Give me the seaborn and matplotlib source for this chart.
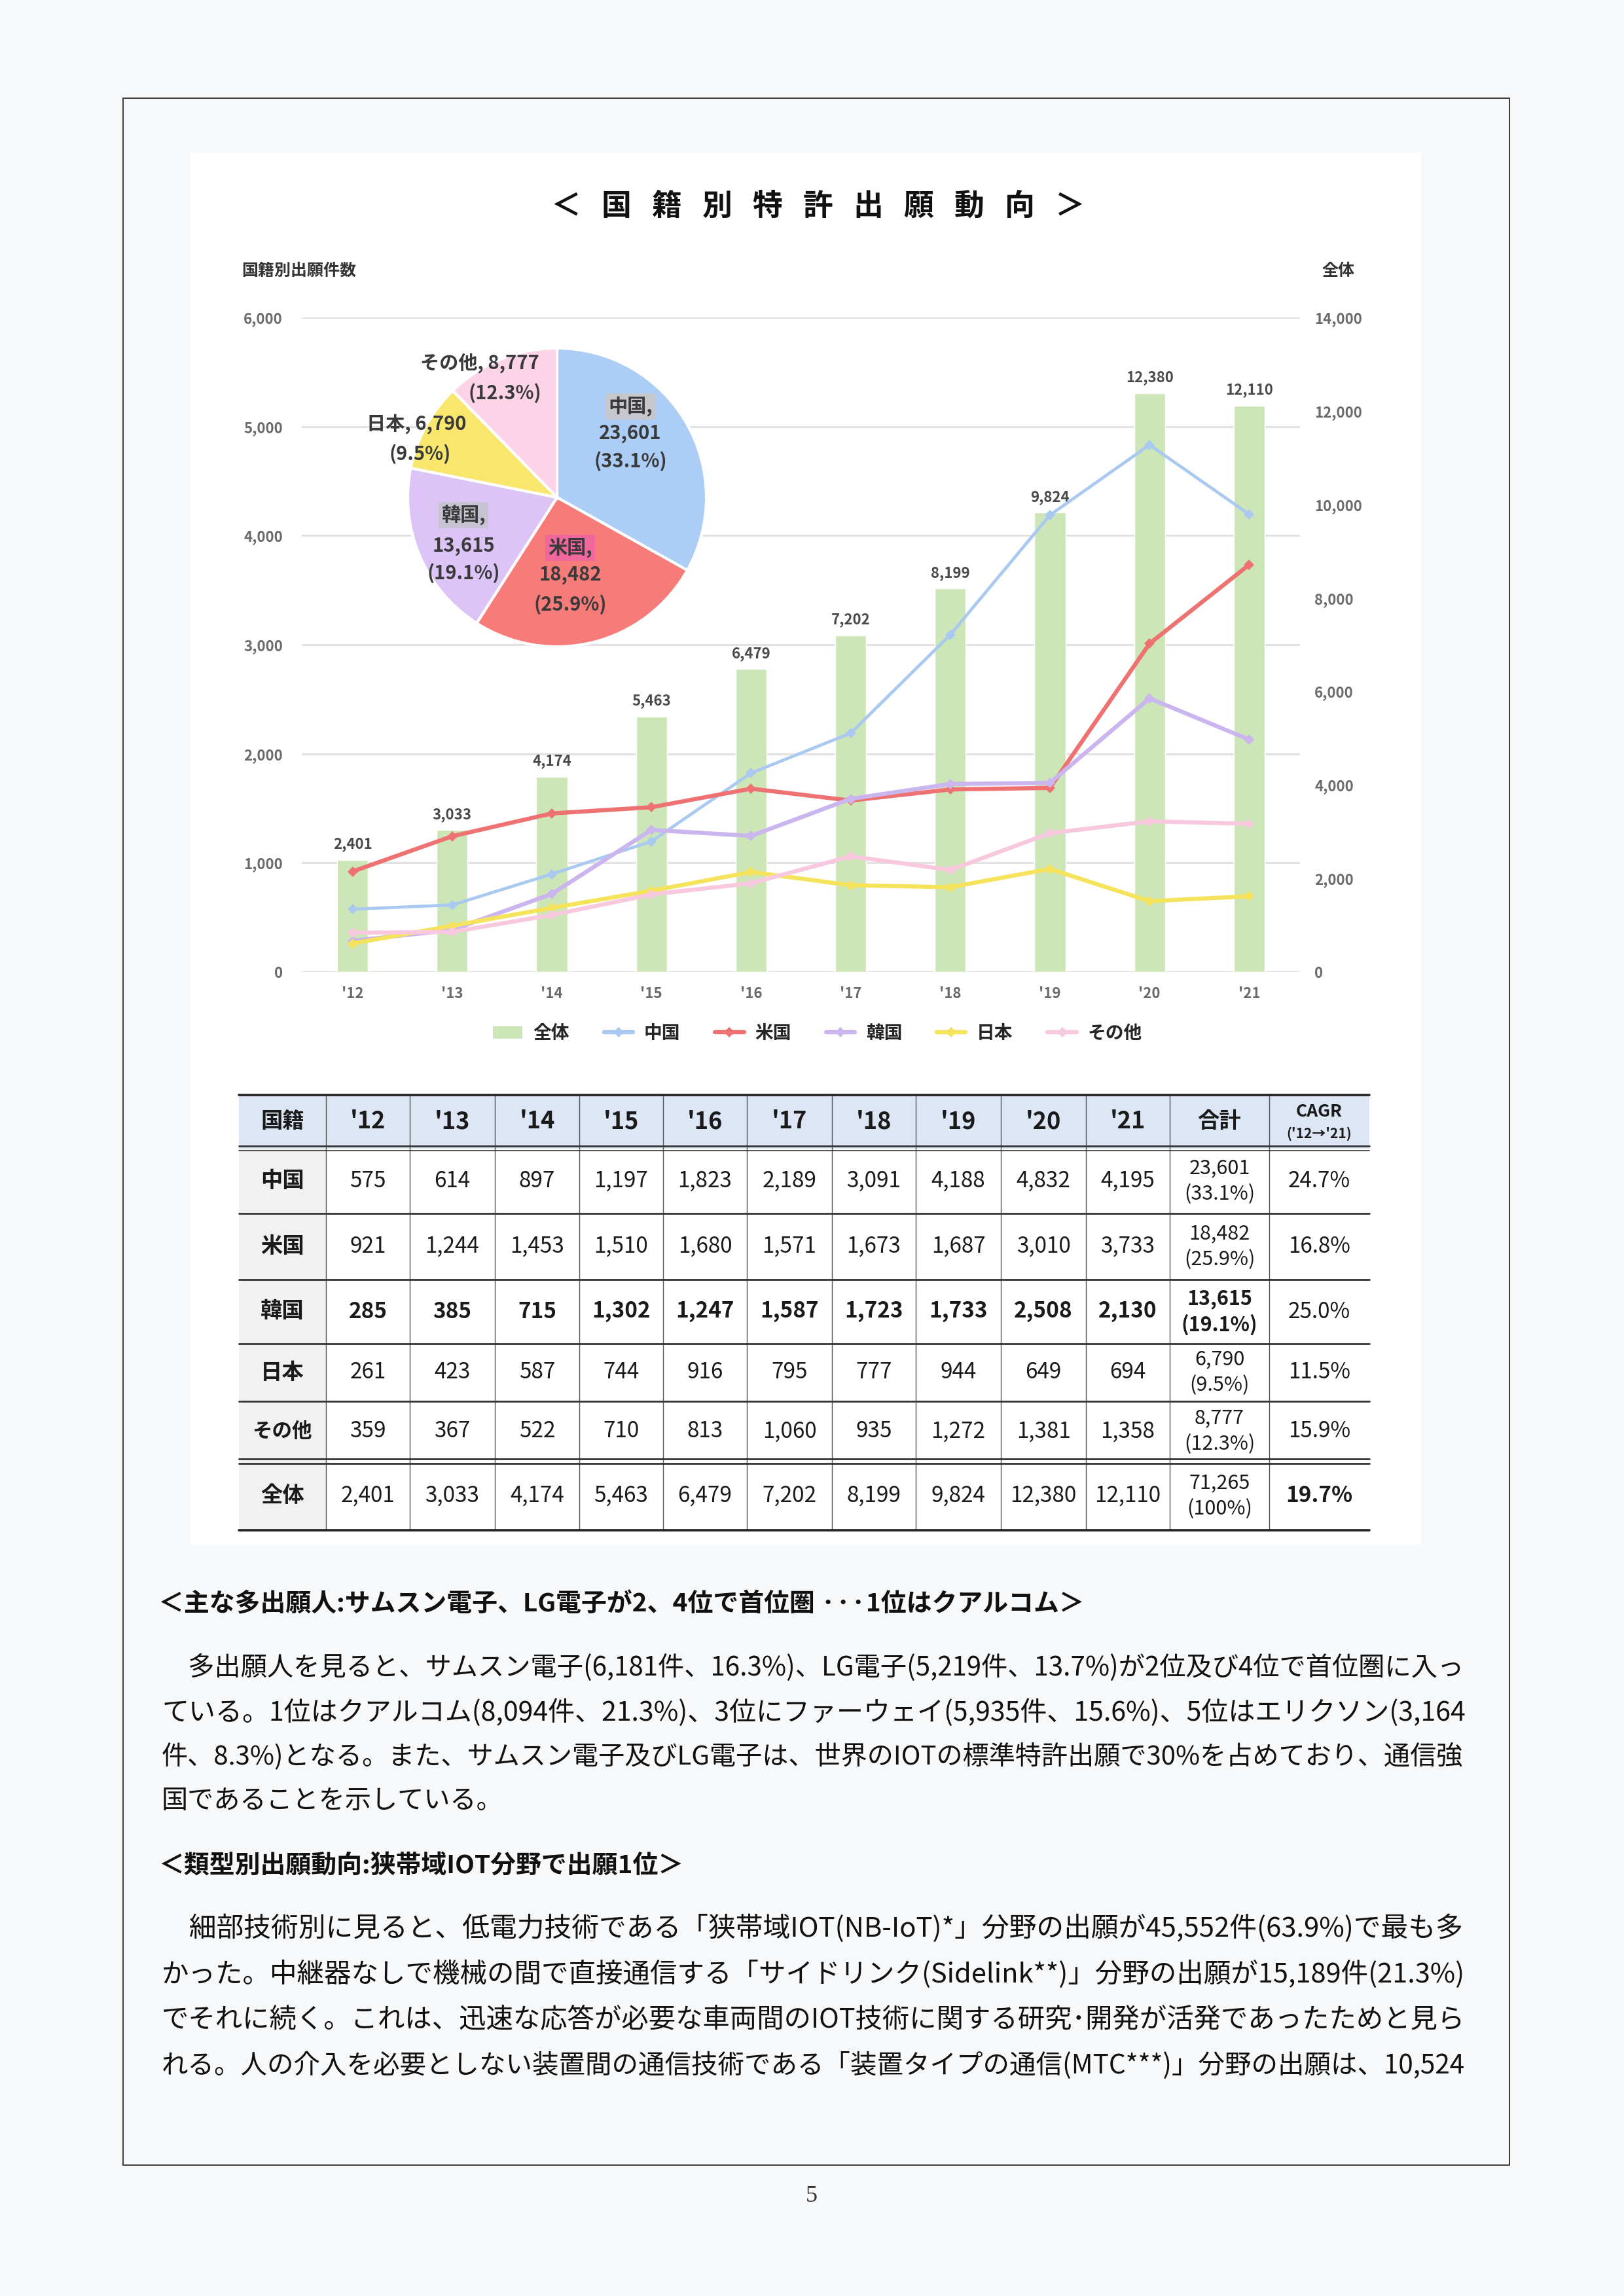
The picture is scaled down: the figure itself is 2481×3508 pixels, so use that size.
import numpy as np
import pandas as pd
import matplotlib
matplotlib.use("Agg")
import matplotlib.pyplot as plt
import seaborn as sns
from matplotlib.patches import Rectangle, Patch
from matplotlib.lines import Line2D

# ---------------- data ----------------
years = ["'12", "'13", "'14", "'15", "'16", "'17", "'18", "'19", "'20", "'21"]
countries = ["中国", "米国", "韓国", "日本", "その他"]
china = [575, 614, 897, 1197, 1823, 2189, 3091, 4188, 4832, 4195]
usa = [921, 1244, 1453, 1510, 1680, 1571, 1673, 1687, 3010, 3733]
korea = [285, 385, 715, 1302, 1247, 1587, 1723, 1733, 2508, 2130]
japan = [261, 423, 587, 744, 916, 795, 777, 944, 649, 694]
other = [359, 367, 522, 710, 813, 1060, 935, 1272, 1381, 1358]
total = [2401, 3033, 4174, 5463, 6479, 7202, 8199, 9824, 12380, 12110]
sums = [23601, 18482, 13615, 6790, 8777]
sum_total = 71265
shares = ["33.1%", "25.9%", "19.1%", "9.5%", "12.3%"]
cagr = ["24.7%", "16.8%", "25.0%", "11.5%", "15.9%"]
cagr_total = "19.7%"
left_ticks = [0, 1000, 2000, 3000, 4000, 5000, 6000]
right_ticks = [0, 2000, 4000, 6000, 8000, 10000, 12000, 14000]

title = "＜   国   籍   別   特   許   出   願   動   向   ＞"
heading1 = "＜主な多出願人:サムスン電子、LG電子が2、4位で首位圏 ···1位はクアルコム＞"
para1 = [
    "　多出願人を見ると、サムスン電子(6,181件、16.3%)、LG電子(5,219件、13.7%)が2位及び4位で首位圏に入っ",
    "ている。1位はクアルコム(8,094件、21.3%)、3位にファーウェイ(5,935件、15.6%)、5位はエリクソン(3,164",
    "件、8.3%)となる。また、サムスン電子及びLG電子は、世界のIOTの標準特許出願で30%を占めており、通信強",
    "国であることを示している。",
]
heading2 = "＜類型別出願動向:狭帯域IOT分野で出願1位＞"
para2 = [
    "　細部技術別に見ると、低電力技術である「狭帯域IOT(NB-IoT)*」分野の出願が45,552件(63.9%)で最も多",
    "かった。中継器なしで機械の間で直接通信する「サイドリンク(Sidelink**)」分野の出願が15,189件(21.3%)",
    "でそれに続く。これは、迅速な応答が必要な車両間のIOT技術に関する研究･開発が活発であったためと見ら",
    "れる。人の介入を必要としない装置間の通信技術である「装置タイプの通信(MTC***)」分野の出願は、10,524",
]

# ---------------- style ----------------
line_colors = {"中国": "#a9c9f1", "米国": "#ef7272", "韓国": "#cbb5ef",
               "日本": "#f6e35c", "その他": "#f8c9de"}
pie_colors = ["#abcdf6", "#f77c79", "#dcc4f6", "#f9e66d", "#fdd4e7"]
bar_color = "#cde6b7"
page_bg = "#f6f8fa"

sns.set_theme(style="white")
plt.rcParams['font.family'] = ['Noto Sans CJK JP', 'DejaVu Sans']

W, H = 2481, 3508
fig = plt.figure(figsize=(W / 100, H / 100), dpi=100, facecolor=page_bg)


def fpos(x0, y0, x1, y1):
    return [x0 / W, 1 - y1 / H, (x1 - x0) / W, (y1 - y0) / H]


# background / page axes in pixel coordinates
bg = fig.add_axes([0, 0, 1, 1])
bg.set_xlim(0, W)
bg.set_ylim(H, 0)
bg.axis('off')
bg.add_patch(Rectangle((188, 150), 2306 - 188, 3308 - 150, fill=False,
                       ec='#3c3c3c', lw=1.4))
bg.add_patch(Rectangle((291, 233), 2170 - 291, 2360 - 233, fc='white', ec='none'))

bg.text(1250, 316, title, ha='center', va='center', fontsize=33,
        fontweight='bold', color='#111')
bg.text(369, 414, "国籍別出願件数", ha='left', va='center', fontsize=18,
        fontweight='bold', color='#333')
bg.text(2045, 414, "全体", ha='center', va='center', fontsize=18,
        fontweight='bold', color='#333')

# ---------------- combo chart ----------------
pos = fpos(461, 485, 1986, 1485)
xlim = (-0.51, 9.51)

axg = fig.add_axes(pos)
axg.set_xlim(*xlim)
axg.set_ylim(0, 6000)
for v in left_ticks:
    axg.axhline(v, color='#e2e2e2', lw=2.2, zorder=0)
axg.axis('off')

df_total = pd.DataFrame({"year": years, "total": total})
axb = fig.add_axes(pos, facecolor='none')
sns.barplot(data=df_total, x="year", y="total", order=years, color=bar_color,
            saturation=1, width=0.31, ax=axb)
axb.set_xlim(*xlim)
axb.set_ylim(0, 14000)
axb.set_xlabel("")
axb.set_ylabel("")
axb.yaxis.tick_right()
axb.set_yticks(right_ticks)
axb.set_yticklabels([f"{v:,}" for v in right_ticks])
axb.tick_params(axis='y', length=0, pad=16, labelsize=16, labelcolor='#6b6b6b')
axb.tick_params(axis='x', length=0, pad=16, labelsize=16, labelcolor='#6b6b6b')
for lab in axb.get_xticklabels() + axb.get_yticklabels():
    lab.set_fontweight('bold')
for s in axb.spines.values():
    s.set_visible(False)
axb.bar_label(axb.containers[0], labels=[f"{v:,}" for v in total], padding=9,
              fontsize=16, fontweight='bold', color='#4a4a4a')

series = {"中国": china, "米国": usa, "韓国": korea, "日本": japan, "その他": other}
df_long = pd.DataFrame([{"year": y, "country": c, "value": vals[i]}
                        for c, vals in series.items() for i, y in enumerate(years)])
df_long["pos"] = pd.Categorical(df_long["year"], categories=years).codes

axl = fig.add_axes(pos, facecolor='none')
sns.lineplot(data=df_long, x="pos", y="value", hue="country", hue_order=countries,
             palette=line_colors, marker='D', markersize=8, markeredgewidth=0,
             linewidth=4.6, legend=False, sort=False, ax=axl)
for ln in axl.lines:
    if ln.get_color() == line_colors["中国"]:
        ln.set_linewidth(3.4)
axl.set_xlim(*xlim)
axl.set_ylim(0, 6000)
axl.set_xticks([])
axl.set_xlabel("")
axl.set_ylabel("")
axl.set_yticks(left_ticks)
axl.set_yticklabels([f"{v:,}" for v in left_ticks])
axl.tick_params(axis='y', length=0, pad=21, labelsize=16, labelcolor='#6b6b6b')
for lab in axl.get_yticklabels():
    lab.set_fontweight('bold')
for s in axl.spines.values():
    s.set_visible(False)

handles = [Patch(fc=bar_color, ec='none', label="全体")]
for c in countries:
    handles.append(Line2D([0], [0], color=line_colors[c], lw=4.6, marker='D',
                          ms=8, mew=0, label=c))
fig.legend(handles=handles, loc='center', bbox_to_anchor=(1249 / W, 1 - 1579 / H),
           ncol=6, frameon=False, prop={'size': 20, 'weight': 'bold'},
           handlelength=1.6, columnspacing=1.9, handletextpad=0.6)

# ---------------- pie ----------------
pcx, pcy, pr = 851, 760, 228
pax = fig.add_axes(fpos(pcx - pr, pcy - pr, pcx + pr, pcy + pr), facecolor='none')
pax.pie(sums, colors=pie_colors, startangle=90, counterclock=False, radius=1,
        wedgeprops=dict(edgecolor='white', linewidth=3))
pax.set_xlim(-1, 1)
pax.set_ylim(-1, 1)


def pp(px, py):
    return ((px - pcx) / pr, (pcy - py) / pr)


tot = sum(sums)
pct = [f"({v / tot * 100:.1f}%)" for v in sums]
lab_kw = dict(ha='center', va='center', fontsize=21, fontweight='bold',
              color='#3a3a3a', clip_on=False)
# 中国
pax.text(*pp(963, 621), "中国,", bbox=dict(fc='#c6c7cc', ec='none', pad=3), **lab_kw)
pax.text(*pp(963, 662), f"{sums[0]:,}", **lab_kw)
pax.text(*pp(963, 705), pct[0], **lab_kw)
# 米国
pax.text(*pp(871, 837), "米国,", bbox=dict(fc='#f0679c', ec='none', pad=3), **lab_kw)
pax.text(*pp(871, 878), f"{sums[1]:,}", **lab_kw)
pax.text(*pp(871, 924), pct[1], **lab_kw)
# 韓国
pax.text(*pp(708, 787), "韓国,", bbox=dict(fc='#c8c3d2', ec='none', pad=3), **lab_kw)
pax.text(*pp(708, 834), f"{sums[2]:,}", **lab_kw)
pax.text(*pp(708, 876), pct[2], **lab_kw)
# 日本
pax.text(*pp(636, 648), f"日本, {sums[3]:,}", **lab_kw)
pax.text(*pp(642, 694), pct[3], **lab_kw)
# その他
pax.text(*pp(733, 555), f"その他, {sums[4]:,}", **lab_kw)
pax.text(*pp(771, 601), pct[4], **lab_kw)

# ---------------- table ----------------
col_edges = [365, 498, 626, 756, 885, 1013, 1141, 1271, 1399, 1529, 1659, 1787, 1939, 2092]
row_edges = [1673, 1755, 1854, 1955, 2053, 2141, 2233, 2338]
bg.add_patch(Rectangle((col_edges[0], row_edges[0]), col_edges[-1] - col_edges[0],
                       row_edges[1] - row_edges[0], fc='#dce6f4', ec='none'))
bg.add_patch(Rectangle((col_edges[0], row_edges[1]), col_edges[1] - col_edges[0],
                       row_edges[-1] - row_edges[1], fc='#f1f1f1', ec='none'))


def cx(i):
    return (col_edges[i] + col_edges[i + 1]) / 2


def ry(j):
    return (row_edges[j] + row_edges[j + 1]) / 2


tk = dict(ha='center', va='center', color='#1a1a1a')
yh = ry(0)
bg.text(cx(0), yh, "国籍", fontsize=24, fontweight='bold', **tk)
for i, y in enumerate(years):
    bg.text(cx(i + 1), yh, y, fontsize=26, fontweight='bold', **tk)
bg.text(cx(11), yh, "合計", fontsize=24, fontweight='bold', **tk)
bg.text(cx(12), yh - 16, "CAGR", fontsize=19, fontweight='bold', **tk)
bg.text(cx(12), yh + 18, "('12→'21)", fontsize=15, fontweight='bold', **tk)

row_labels = countries + ["全体"]
row_vals = [china, usa, korea, japan, other, total]
row_sums = sums + [sum_total]
row_shares = shares + ["100%"]
row_cagr = cagr + [cagr_total]
for r in range(6):
    yc = ry(r + 1)
    bold = 'bold' if row_labels[r] == "韓国" else 'normal'
    lfs = 24 if row_labels[r] != "その他" else 22
    bg.text(cx(0), yc, row_labels[r], fontsize=lfs, fontweight='bold', **tk)
    for i, v in enumerate(row_vals[r]):
        bg.text(cx(i + 1), yc, f"{v:,}", fontsize=24, fontweight=bold, **tk)
    bg.text(cx(11), yc - 20, f"{row_sums[r]:,}", fontsize=22, fontweight=bold, **tk)
    bg.text(cx(11), yc + 20, f"({row_shares[r]})", fontsize=22, fontweight=bold, **tk)
    cb = 'bold' if row_labels[r] == "全体" else 'normal'
    bg.text(cx(12), yc, row_cagr[r], fontsize=24, fontweight=cb, **tk)

x0, x1 = col_edges[0], col_edges[-1]
for xe in col_edges[1:-1]:
    bg.plot([xe, xe], [row_edges[0], row_edges[-1]], color='#555', lw=1.0)
bg.plot([x0, x1], [row_edges[0], row_edges[0]], color='#222', lw=2.6)
bg.plot([x0, x1], [row_edges[1] - 4, row_edges[1] - 4], color='#333', lw=2.0)
bg.plot([x0, x1], [row_edges[1] + 3, row_edges[1] + 3], color='#333', lw=1.2)
for ye in row_edges[2:6]:
    bg.plot([x0, x1], [ye, ye], color='#333', lw=2.0)
bg.plot([x0, x1], [row_edges[6] - 4, row_edges[6] - 4], color='#333', lw=2.0)
bg.plot([x0, x1], [row_edges[6] + 3, row_edges[6] + 3], color='#333', lw=2.0)
bg.plot([x0, x1], [row_edges[-1], row_edges[-1]], color='#222', lw=2.6)

# ---------------- body text ----------------
renderer = fig.canvas.get_renderer()
TL, TR = 247, 2236


def fit_line(y, s, fs=None, weight='normal'):
    t = bg.text(TL, y, s, ha='left', va='center', fontsize=fs or 28,
                fontweight=weight, color='#111')
    if fs is None:
        w = t.get_window_extent(renderer).width
        fs = 28 * (TR - TL) / w
        t.set_fontsize(fs)
    return fs


bg.text(242, 2451, heading1, ha='left', va='center', fontsize=28,
        fontweight='bold', color='#111')
ys1 = [2548, 2617, 2683, 2752]
fs = None
for k, (y, s) in enumerate(zip(ys1, para1)):
    fs = fit_line(y, s, None if k < len(para1) - 1 else fs)

bg.text(242, 2850, heading2, ha='left', va='center', fontsize=28,
        fontweight='bold', color='#111')
ys2 = [2946, 3016, 3086, 3156]
for y, s in zip(ys2, para2):
    fit_line(y, s)

bg.text(1240, 3356, "5", ha='center', va='center', fontsize=26,
        family='Liberation Serif', color='#333')

fig.savefig("out.png", dpi=100, facecolor=fig.get_facecolor())
